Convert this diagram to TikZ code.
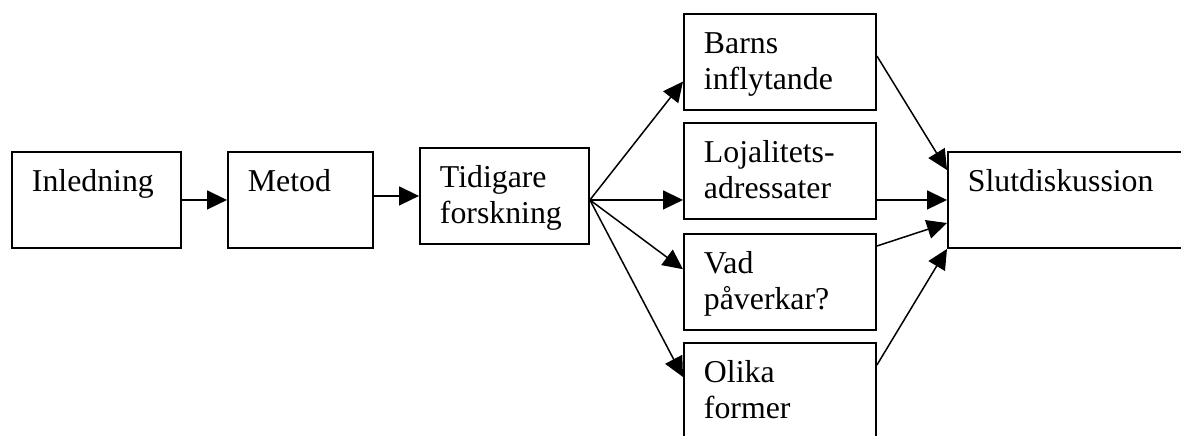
\documentclass[tikz,border=0pt]{standalone}
\usepackage{fontspec}
\setmainfont{Liberation Serif}
\usetikzlibrary{arrows.meta,calc}

\begin{document}
\begin{tikzpicture}[
      x=0.5pt, y=-0.5pt,
      every node/.style={font=\fontsize{15.9pt}{18pt}\selectfont},
      chap/.style={rectangle,draw=black,line width=0.95pt,anchor=north west,
                   inner xsep=10pt,inner ysep=0pt,align=left,
                   text width=#1,text height=20pt,text depth=28pt},
      arr/.style={-{Triangle[length=10pt,width=9.5pt]},line width=0.75pt,black},
    ]
    \useasboundingbox (0,0) rectangle (1181,435);
    \clip (0,0) rectangle (1181,435);

    % Node layout
    \node[chap=64.5pt] (inl) at (11,151) {Inledning};
    \node[chap=52.5pt] (met) at (227,151) {Metod};
    \node[chap=64.5pt] (tid) at (419,147) {Tidigare\\forskning};
    \node[chap=76pt] (bar) at (683,13) {Barns\\inflytande};
    \node[chap=76pt] (loj) at (683,122) {Lojalitets-\\adressater};
    \node[chap=76pt] (vad) at (683,233) {Vad\\påverkar?};
    \node[chap=76pt,text depth=40pt] (oli) at (683,342) {Olika\\former};
    \node[chap=105pt] (slu) at (947,151) {Slutdiskussion};
    \coordinate (fan) at ($(tid.east)+(0,4)$);

    % Arrow connections
    \draw[arr] (inl) -- (met);
    \draw[arr] (met.east |- tid) -- (tid.west);
    \draw[arr] (fan) -- ($(bar.south west)!0.3!(bar.north west)$);
    \draw[arr] (fan) -- (fan -| loj.west);
    \draw[arr] (fan) -- ($(vad.south west)!0.63!(vad.north west)$);
    \draw[arr] (fan) -- ($(oli.north west)+(0,35)$);
    \draw[arr] ($(bar.east)+(0,-6)$) -- ($(slu.north west)+(0,19)$);
    \draw[arr] (loj.east |- fan) -- (fan -| slu.west);
    \draw[arr] ($(vad.north east)+(0,13)$) -- ($(slu.north west)+(0,72)$);
    \draw[arr] ($(oli.north east)+(0,23)$) -- (slu.south west);

  \end{tikzpicture}
\end{document}
